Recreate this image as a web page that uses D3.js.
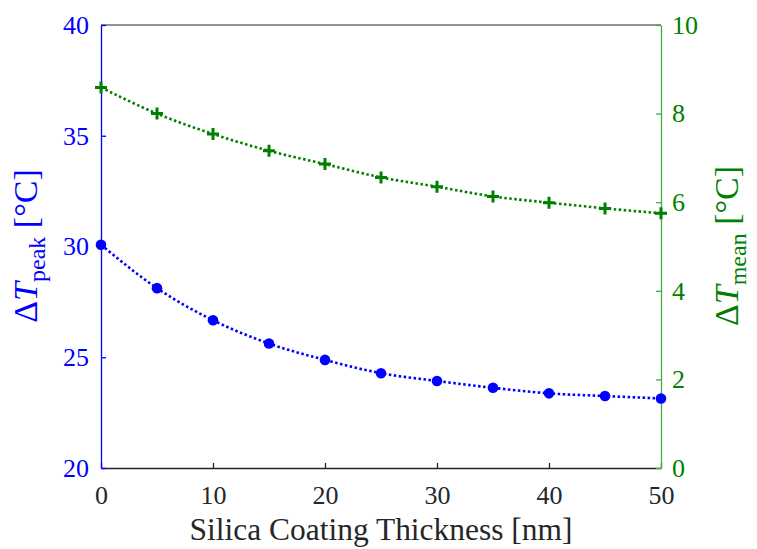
<!DOCTYPE html>
<html>
<head>
<meta charset="utf-8">
<script src="https://cdn.jsdelivr.net/npm/d3@7"></script>
<style>
  html, body { margin: 0; padding: 0; background: #fff; }
  svg { display: block; }
</style>
</head>
<body>
<svg id="chart" width="757" height="549"></svg>
<script>
// Silica coating thickness [nm]
const thickness = [0, 5, 10, 15, 20, 25, 30, 35, 40, 45, 50];
// Peak temperature rise [°C] (left axis)
const deltaTPeak = [30.08, 28.12, 26.67, 25.62, 24.88, 24.28, 23.93, 23.62, 23.37, 23.25, 23.14];
// Mean temperature rise [°C] (right axis)
const deltaTMean = [8.59, 8.00, 7.54, 7.16, 6.86, 6.56, 6.35, 6.13, 5.99, 5.86, 5.75];

const xTicks = [0, 10, 20, 30, 40, 50];
const leftTicks = [20, 25, 30, 35, 40];
const rightTicks = [0, 2, 4, 6, 8, 10];

const blue = "#0000ff";
const green = "#008000";
const dark = "#262626";
const serif = "'Liberation Serif', 'Times New Roman', Times, 'DejaVu Serif', serif";

const margin = { left: 101, right: 96, top: 25, bottom: 81 };
const W = 757, H = 549;
const svg = d3.select("#chart").attr("font-family", serif);

const x = d3.scaleLinear().domain([0, 50]).range([margin.left, W - margin.right]);
const yL = d3.scaleLinear().domain([20, 40]).range([H - margin.bottom, margin.top]);
const yR = d3.scaleLinear().domain([0, 10]).range([H - margin.bottom, margin.top]);

const tickFont = 26;

function styleAxis(g, color, lineColor) {
  g.attr("font-family", serif).attr("font-size", tickFont);
  g.select(".domain").attr("stroke", lineColor).attr("stroke-width", 1.3);
  g.selectAll(".tick line").attr("stroke", lineColor).attr("stroke-width", 1.3);
  g.selectAll(".tick text").attr("fill", color);
}

// Box: top edge
svg.append("line")
  .attr("x1", x(0)).attr("x2", x(50))
  .attr("y1", yL(40)).attr("y2", yL(40))
  .attr("stroke", dark).attr("stroke-width", 1);

// Bottom axis (ticks point inward)
svg.append("g")
  .attr("transform", `translate(0,${yL(20)})`)
  .call(d3.axisBottom(x).tickValues(xTicks).tickSizeInner(-5).tickSizeOuter(0).tickPadding(18))
  .call(styleAxis, dark, dark);

// Left axis
svg.append("g")
  .attr("transform", `translate(${x(0)},0)`)
  .call(d3.axisLeft(yL).tickValues(leftTicks).tickSizeInner(-5).tickSizeOuter(0).tickPadding(12))
  .call(styleAxis, blue, blue);

// Right axis
svg.append("g")
  .attr("transform", `translate(${x(50)},0)`)
  .call(d3.axisRight(yR).tickValues(rightTicks).tickSizeInner(-5).tickSizeOuter(0).tickPadding(11))
  .call(styleAxis, green, "#4aa84a");

// Dotted connecting curves
const lineL = d3.line().x((d, i) => x(thickness[i])).y(d => yL(d)).curve(d3.curveMonotoneX);
const lineR = d3.line().x((d, i) => x(thickness[i])).y(d => yR(d)).curve(d3.curveMonotoneX);

svg.append("path").datum(deltaTPeak).attr("d", lineL)
  .attr("fill", "none").attr("stroke", blue).attr("stroke-width", 2.6)
  .attr("stroke-dasharray", "2.5,2.5");
svg.append("path").datum(deltaTMean).attr("d", lineR)
  .attr("fill", "none").attr("stroke", green).attr("stroke-width", 2.6)
  .attr("stroke-dasharray", "2.5,2.5");

// Circle markers (peak)
svg.append("g").selectAll("circle").data(deltaTPeak).join("circle")
  .attr("cx", (d, i) => x(thickness[i])).attr("cy", d => yL(d))
  .attr("r", 5.3).attr("fill", blue);

// Plus markers (mean)
svg.append("g").selectAll("path").data(deltaTMean).join("path")
  .attr("transform", (d, i) => `translate(${x(thickness[i])},${yR(d)})`)
  .attr("d", "M-6,0H6M0,-6V6")
  .attr("stroke", green).attr("stroke-width", 3).attr("fill", "none");

// X label
svg.append("text")
  .attr("x", (x(0) + x(50)) / 2).attr("y", 540)
  .attr("text-anchor", "middle").attr("fill", dark)
  .attr("font-size", 31)
  .attr("textLength", 383).attr("lengthAdjust", "spacingAndGlyphs")
  .text("Silica Coating Thickness [nm]");

// Y labels with italic T and subscript
function yLabel(cx, cy, sub, color) {
  const t = svg.append("text")
    .attr("transform", `translate(${cx},${cy}) rotate(-90)`)
    .attr("text-anchor", "middle").attr("fill", color)
    .attr("font-size", 34);
  t.append("tspan").text("\u0394");
  t.append("tspan").attr("font-style", "italic").text("T");
  t.append("tspan").attr("dy", 8).attr("font-size", 24).text(sub);
  t.append("tspan").attr("dy", -8).text(" [\u00b0C]");
}
yLabel(37, 246, "peak", blue);
yLabel(738, 246, "mean", green);
</script>
</body>
</html>
